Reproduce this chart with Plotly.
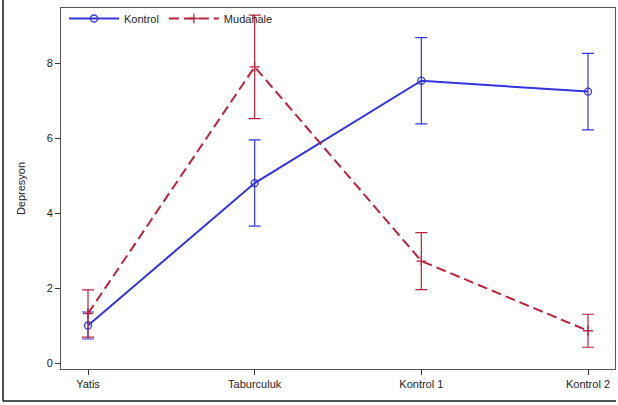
import plotly.graph_objects as go

# Measurement times
times = ["Yatis", "Taburculuk", "Kontrol 1", "Kontrol 2"]

# Group means and error half-widths for depression scores
kontrol_mean = [1.0, 4.8, 7.53, 7.24]
kontrol_err = [0.36, 1.15, 1.15, 1.02]
mudahale_mean = [1.32, 7.9, 2.72, 0.86]
mudahale_err = [0.63, 1.38, 0.76, 0.44]

y_ticks = [0, 2, 4, 6, 8]

BLUE = "#3434dc"
RED = "#b9223c"
FONT = "Liberation Sans, Arial, sans-serif"

fig = go.Figure()

fig.add_trace(go.Scatter(
    x=times, y=kontrol_mean, name="Kontrol",
    mode="lines+markers",
    line=dict(color=BLUE, width=2),
    marker=dict(symbol="circle-open", size=7, color=BLUE, line=dict(width=1.3)),
    error_y=dict(type="data", array=kontrol_err, visible=True,
                 color=BLUE, thickness=1.2, width=6),
))

fig.add_trace(go.Scatter(
    x=times, y=mudahale_mean, name="Mudahale",
    mode="lines+markers",
    line=dict(color=RED, width=2, dash="10px,5px"),
    marker=dict(symbol="cross-thin-open", size=7, color=RED, line=dict(width=1.3, color=RED)),
    error_y=dict(type="data", array=mudahale_err, visible=True,
                 color=RED, thickness=1.2, width=6),
))

W, H = 618, 405
L, R, T, B = 61, 3, 8, 36
pw, ph = W - L - R, H - T - B

def px_x(px):
    return (px - L) / pw

def px_y(py):
    return (H - B - py) / ph

# Outer frame around the graph
fig.add_shape(type="line", xref="paper", yref="paper",
              x0=px_x(3), x1=px_x(3), y0=px_y(401), y1=px_y(-2),
              line=dict(color="#1a1a1a", width=1.5))
fig.add_shape(type="line", xref="paper", yref="paper",
              x0=px_x(3), x1=px_x(616), y0=px_y(401), y1=px_y(401),
              line=dict(color="#1a1a1a", width=1.5))

fig.update_layout(
    width=W, height=H,
    margin=dict(l=L, r=R, t=T, b=B),
    paper_bgcolor="white", plot_bgcolor="white",
    font=dict(family=FONT, size=11, color="#222"),
    showlegend=True,
    legend=dict(orientation="h", x=px_x(64), y=px_y(4), xanchor="left", yanchor="top",
                bgcolor="rgba(0,0,0,0)", font=dict(size=11),
                itemwidth=50, tracegroupgap=0),
    xaxis=dict(
        type="category", range=[-0.162, 3.162],
        showline=True, linecolor="#555", linewidth=1, mirror=True,
        ticks="outside", ticklen=5, tickcolor="#333",
        showgrid=False, zeroline=False,
        tickfont=dict(size=11),
    ),
    yaxis=dict(
        range=[-0.16, 9.47],
        tickvals=y_ticks, ticktext=[str(v) for v in y_ticks],
        showline=True, linecolor="#555", linewidth=1, mirror=True,
        ticks="outside", ticklen=5, tickcolor="#333",
        showgrid=False, zeroline=False,
        title=dict(text="Depresyon", font=dict(size=11), standoff=18),
        tickfont=dict(size=11),
    ),
)

fig.write_html("out.html")
